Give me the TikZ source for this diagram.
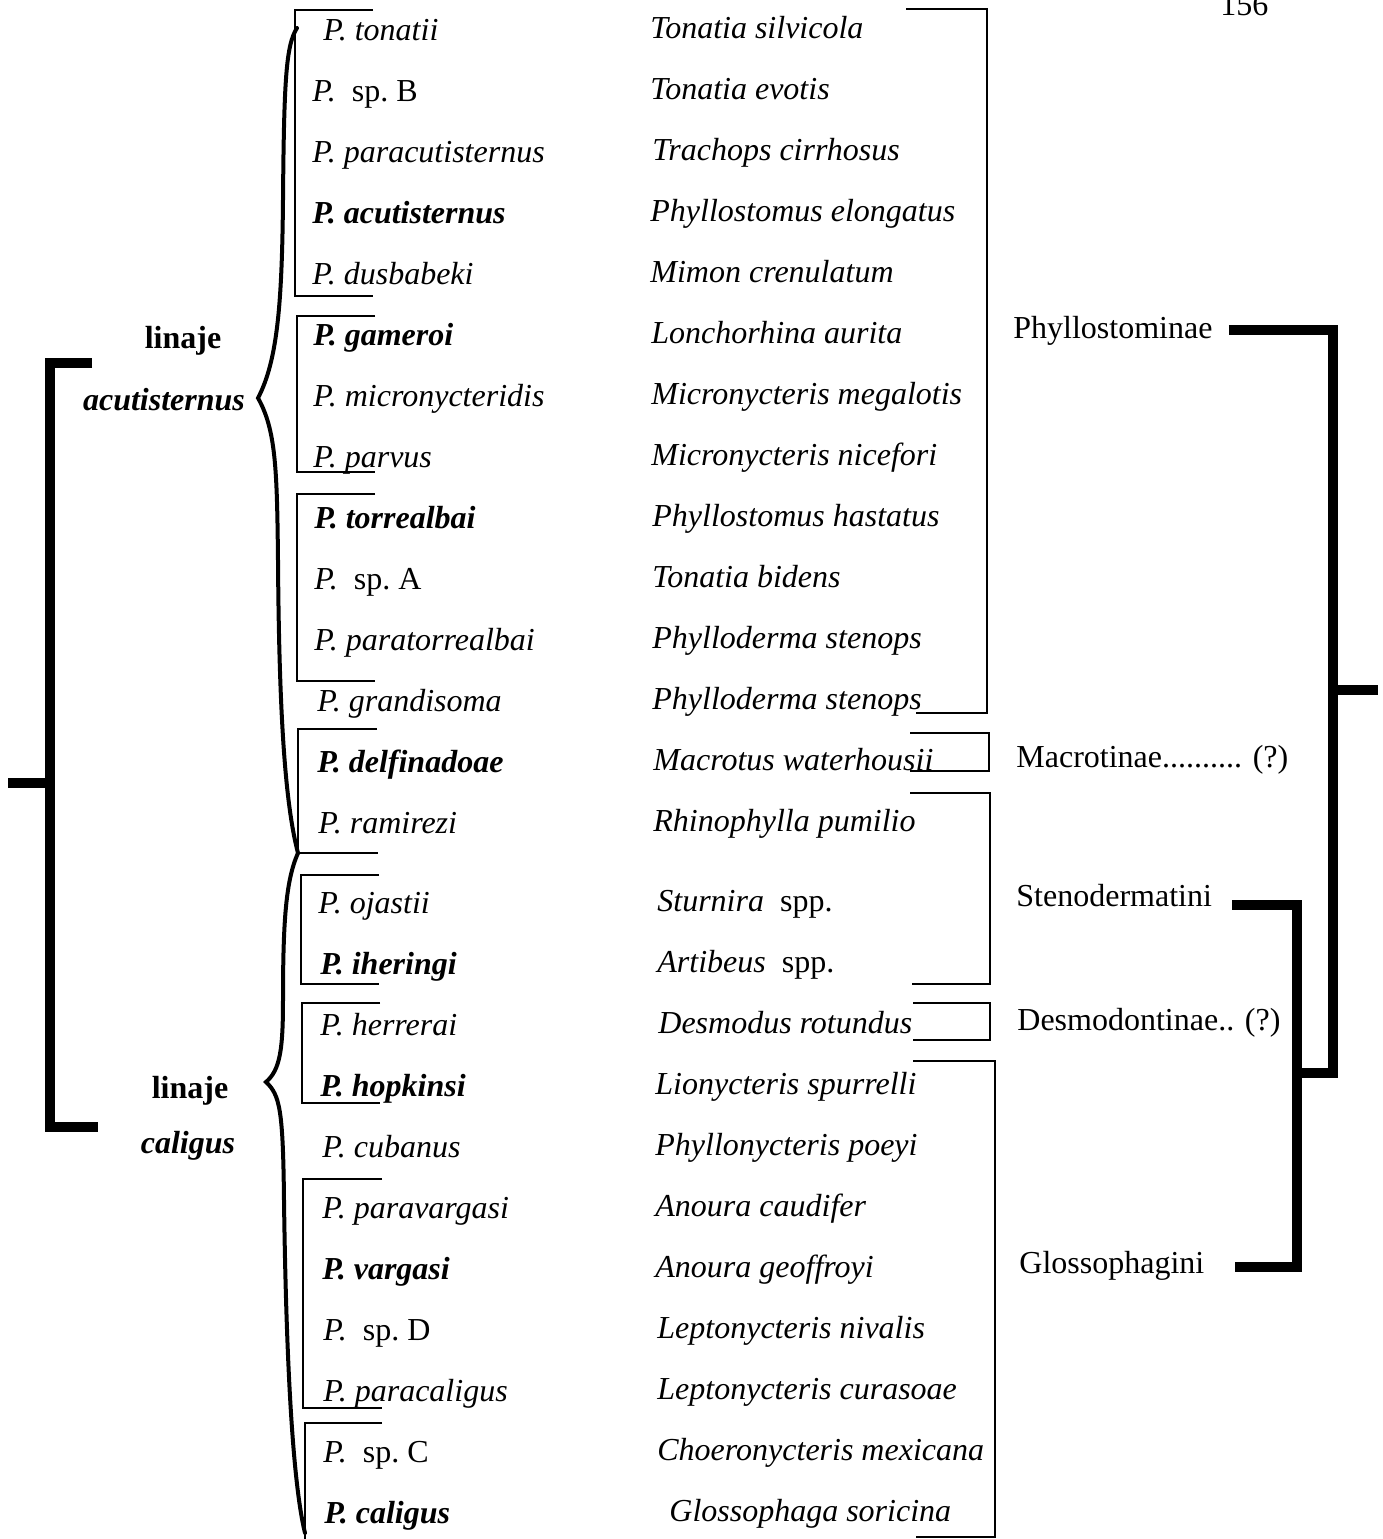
\documentclass[tikz,border=0pt]{standalone}
\usepackage{fontspec}
\setmainfont{Liberation Serif}
\usetikzlibrary{positioning}

\begin{document}
\begin{tikzpicture}[
  x=0.5pt, y=-0.5pt,
  font=\fontsize{16}{18}\selectfont,
  sp/.style={anchor=base west, inner sep=0pt, font=\fontsize{16}{18}\selectfont\itshape},
  host/.style={anchor=base west, inner sep=0pt, font=\fontsize{16}{18}\selectfont\itshape},
  taxon/.style={anchor=base west, inner sep=0pt},
  lin/.style={anchor=base, inner sep=0pt, font=\fontsize{16}{18}\selectfont\bfseries},
  grp/.style={line width=1pt},
  brace/.style={line width=2pt, line cap=round},
  heavy/.style={line width=5pt}
]
\useasboundingbox (0,0) rectangle (1383,1539);

\node[anchor=base west, inner sep=0pt] (page) at (1220,15) {156};

% parasites and their hosts
\node[sp] (s1) at (323,40) {P. tonatii};
\node[host] (h1) at (650,38) {Tonatia silvicola};
\node[sp] (s2) at (312,101) {P.\ \ \upshape sp.~B};
\node[host] (h2) at (650,99) {Tonatia evotis};
\node[sp] (s3) at (312,162) {P. paracutisternus};
\node[host] (h3) at (652,160) {Trachops cirrhosus};
\node[sp] (s4) at (312,223) {\bfseries P. acutisternus};
\node[host] (h4) at (650,221) {Phyllostomus elongatus};
\node[sp] (s5) at (312,284) {P. dusbabeki};
\node[host] (h5) at (650,282) {Mimon crenulatum};
\node[sp] (s6) at (313,345) {\bfseries P. gameroi};
\node[host] (h6) at (651,343) {Lonchorhina aurita};
\node[sp] (s7) at (313,406) {P. micronycteridis};
\node[host] (h7) at (651,404) {Micronycteris megalotis};
\node[sp] (s8) at (313,467) {P. parvus};
\node[host] (h8) at (651,465) {Micronycteris nicefori};
\node[sp] (s9) at (314,528) {\bfseries P. torrealbai};
\node[host] (h9) at (652,526) {Phyllostomus hastatus};
\node[sp] (s10) at (314,589) {P.\ \ \upshape sp.~A};
\node[host] (h10) at (652,587) {Tonatia bidens};
\node[sp] (s11) at (314,650) {P. paratorrealbai};
\node[host] (h11) at (652,648) {Phylloderma stenops};
\node[sp] (s12) at (317,711) {P. grandisoma};
\node[host] (h12) at (652,709) {Phylloderma stenops};
\node[sp] (s13) at (317,772) {\bfseries P. delfinadoae};
\node[host] (h13) at (653,770) {Macrotus waterhousii};
\node[sp] (s14) at (318,833) {P. ramirezi};
\node[host] (h14) at (653,831) {Rhinophylla pumilio};
\node[sp] (s15) at (318,913) {P. ojastii};
\node[host] (h15) at (657,911) {Sturnira\ \ \upshape spp.};
\node[sp] (s16) at (320,974) {\bfseries P. iheringi};
\node[host] (h16) at (657,972) {Artibeus\ \ \upshape spp.};
\node[sp] (s17) at (320,1035) {P. herrerai};
\node[host] (h17) at (658,1033) {Desmodus rotundus};
\node[sp] (s18) at (320,1096) {\bfseries P. hopkinsi};
\node[host] (h18) at (655,1094) {Lionycteris spurrelli};
\node[sp] (s19) at (322,1157) {P. cubanus};
\node[host] (h19) at (655,1155) {Phyllonycteris poeyi};
\node[sp] (s20) at (322,1218) {P. paravargasi};
\node[host] (h20) at (655,1216) {Anoura caudifer};
\node[sp] (s21) at (322,1279) {\bfseries P. vargasi};
\node[host] (h21) at (655,1277) {Anoura geoffroyi};
\node[sp] (s22) at (323,1340) {P.\ \ \upshape sp.~D};
\node[host] (h22) at (657,1338) {Leptonycteris nivalis};
\node[sp] (s23) at (323,1401) {P. paracaligus};
\node[host] (h23) at (657,1399) {Leptonycteris curasoae};
\node[sp] (s24) at (323,1462) {P.\ \ \upshape sp.~C};
\node[host] (h24) at (657,1460) {Choeronycteris mexicana};
\node[sp] (s25) at (324,1523) {\bfseries P. caligus};
\node[host] (h25) at (669,1521) {Glossophaga soricina};

% lineages
\node[lin] (linA) at (183,348) {linaje};
\node[lin, font=\fontsize{16}{18}\selectfont\bfseries\itshape] (acu) at (164,410) {acutisternus};
\node[lin] (linC) at (190,1098) {linaje};
\node[lin, font=\fontsize{16}{18}\selectfont\bfseries\itshape] (cal) at (188,1153) {caligus};

% host groups
\node[taxon] (phyl) at (1013,338) {Phyllostominae};
\node[taxon] (macr) at (1016,767) {Macrotinae.......... (?)};
\node[taxon] (sten) at (1016,906) {Stenodermatini};
\node[taxon] (desm) at (1017,1030) {Desmodontinae.. (?)};
\node[taxon] (glos) at (1019,1273) {Glossophagini};

% parasite groups
\draw[grp] (373,10) -| (295,296) -- (373,296);
\draw[grp] (375,316) -| (297,472) -- (375,472);
\draw[grp] (375,494) -| (297,681) -- (375,681);
\draw[grp] (377,729) -| (298,853) -- (378,853);
\draw[grp] (379,875) -| (301,984) -- (379,984);
\draw[grp] (380,1003) -| (302,1103) -- (380,1103);
\draw[grp] (382,1179) -| (303,1408) -- (382,1408);
\draw[grp] (382,1423) -| (305,1539);

% braces
\draw[brace] (297,28) .. controls (286,45) and (284,80) .. (283,200)
  .. controls (282,300) and (278,360) .. (258,398)
  .. controls (276,430) and (277,470) .. (278,560)
  .. controls (279,700) and (284,800) .. (298,853);
\draw[brace] (298,853) .. controls (286,880) and (283,920) .. (283,1000)
  .. controls (283,1050) and (280,1070) .. (266,1082)
  .. controls (280,1095) and (283,1110) .. (284,1200)
  .. controls (286,1350) and (292,1480) .. (305,1533);

% host brackets
\draw[grp] (906,9) -| (987,713) -- (916,713);
\draw[grp] (910,733) -| (989,771) -- (910,771);
\draw[grp] (910,793) -| (990,984) -- (912,984);
\draw[grp] (913,1003) -| (990,1040) -- (913,1040);
\draw[grp] (913,1061) -| (995,1537) -- (916,1537);

% cladogram
\draw[heavy] (92,363) -| (50,1127) -- (98,1127);
\draw[heavy] (50,783) -- (8,783);
\draw[heavy] ([xshift=8pt]phyl.east |- 0,330) -| (1333,1073) -- (1297,1073);
\draw[heavy] (1333,690) -- (1378,690);
\draw[heavy] (1232,905) -| (1297,1267) -- (1235,1267);
\end{tikzpicture}
\end{document}
